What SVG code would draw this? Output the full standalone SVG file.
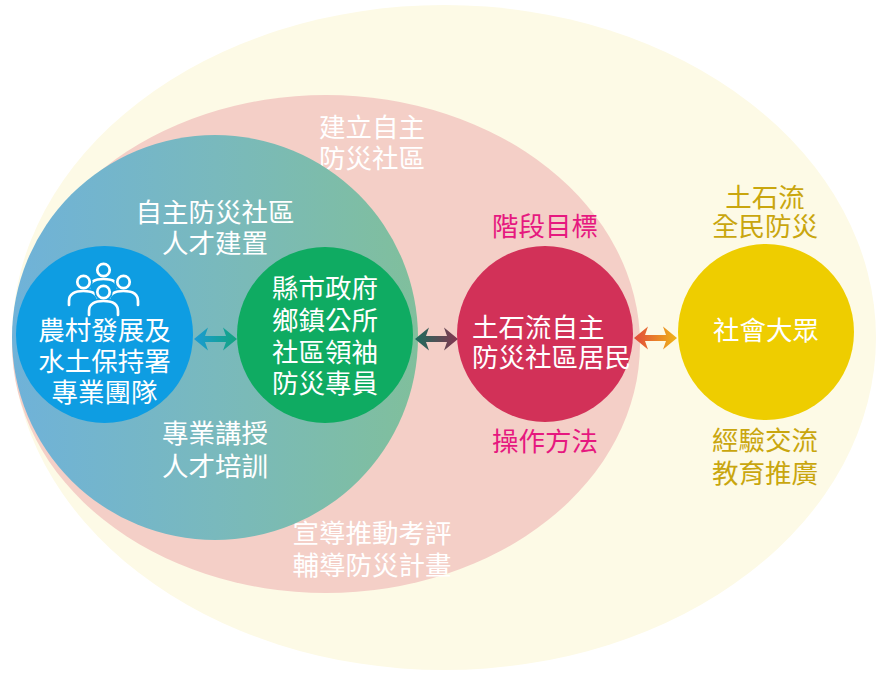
<svg xmlns="http://www.w3.org/2000/svg" width="884" height="676" viewBox="0 0 884 676">
<defs>
<linearGradient id="gTeal" x1="0" y1="0" x2="1" y2="0">
<stop offset="0" stop-color="#6fb2d9"/>
<stop offset="0.5" stop-color="#79b9bd"/>
<stop offset="1" stop-color="#80bf9c"/>
</linearGradient>
<linearGradient id="gA1" x1="0" y1="0" x2="1" y2="0">
<stop offset="0" stop-color="#1b9bd6"/>
<stop offset="1" stop-color="#12a47e"/>
</linearGradient>
<linearGradient id="gA2" x1="0" y1="0" x2="1" y2="0">
<stop offset="0" stop-color="#1a6c5c"/>
<stop offset="1" stop-color="#853650"/>
</linearGradient>
<linearGradient id="gA3" x1="0" y1="0" x2="1" y2="0">
<stop offset="0" stop-color="#e24a3c"/>
<stop offset="1" stop-color="#efb418"/>
</linearGradient>
<g id="person">
<path d="M-14.5,23 L-14.5,19 C-14.5,11.5 -8,9 0,9 C8,9 14.5,11.5 14.5,19 L14.5,23" fill="#0e9de2" stroke="#0e9de2" stroke-width="6"/>
<circle cx="0" cy="0" r="6.2" fill="#0e9de2" stroke="#0e9de2" stroke-width="6"/>
<path d="M-14.5,23 L-14.5,19 C-14.5,11.5 -8,9 0,9 C8,9 14.5,11.5 14.5,19 L14.5,23" fill="#0e9de2" stroke="#fff" stroke-width="2.7" stroke-linecap="round"/>
<circle cx="0" cy="0" r="6.2" fill="#0e9de2" stroke="#fff" stroke-width="2.7"/>
</g>
</defs>
<style>
text{font-family:"Noto Sans CJK TC","Noto Sans CJK SC",sans-serif;font-size:26.5px;text-anchor:middle}
.w{fill:#ffffff}
.m{fill:#e6187f}
.y{fill:#c9a60e}
</style>
<rect width="884" height="676" fill="#ffffff"/>
<g id="outer-public">
<ellipse cx="444" cy="337.5" rx="432" ry="332.5" fill="#fdfae6"/>
</g>
<g id="community-zone">
<ellipse cx="326" cy="344" rx="314" ry="249" fill="#f4cfc7"/>
<text class="w" x="372" y="137">建立自主</text>
<text class="w" x="372" y="168">防災社區</text>
<text class="w" x="372" y="543">宣導推動考評</text>
<text class="w" x="372" y="575">輔導防災計畫</text>
</g>
<g id="talent-zone">
<ellipse cx="215" cy="337.5" rx="203" ry="202.5" fill="url(#gTeal)"/>
<text class="w" x="215" y="222">自主防災社區</text>
<text class="w" x="215" y="253">人才建置</text>
<text class="w" x="215" y="443">專業講授</text>
<text class="w" x="215" y="476">人才培訓</text>
</g>
<g id="expert-team">
<circle cx="104.5" cy="334.5" r="88.5" fill="#0e9de2"/>
<use href="#person" x="103.5" y="270"/>
<use href="#person" x="83.5" y="282"/>
<use href="#person" x="123.5" y="282"/>
<use href="#person" x="103.5" y="292"/>
<text class="w" x="104.5" y="340">農村發展及</text>
<text class="w" x="104.5" y="371">水土保持署</text>
<text class="w" x="104.5" y="402">專業團隊</text>
</g>
<g id="local-gov">
<circle cx="325" cy="335" r="88" fill="#0fab62"/>
<text class="w" x="325" y="298">縣市政府</text>
<text class="w" x="325" y="330">鄉鎮公所</text>
<text class="w" x="325" y="362">社區領袖</text>
<text class="w" x="325" y="393">防災專員</text>
</g>
<g id="residents">
<circle cx="545" cy="334" r="88" fill="#d23158"/>
<text class="m" x="545" y="236">階段目標</text>
<text class="m" x="545" y="451">操作方法</text>
<text class="w" x="472" y="337" style="text-anchor:start">土石流自主</text>
<text class="w" x="472" y="367" style="text-anchor:start">防災社區居民</text>
</g>
<g id="public">
<circle cx="766" cy="332" r="88" fill="#eecd00"/>
<text class="y" x="765" y="207">土石流</text>
<text class="y" x="765" y="236">全民防災</text>
<text class="w" x="766" y="340">社會大眾</text>
<text class="y" x="765" y="450">經驗交流</text>
<text class="y" x="765" y="483">教育推廣</text>
</g>
<g id="connectors">
<path d="M194,339 L208,327.5 L205,336 L226,336 L223,327.5 L237,339 L223,350.5 L226,342 L205,342 L208,350.5 Z" fill="url(#gA1)"/>
<path d="M415,339 L429,327.5 L426,336 L447,336 L444,327.5 L458,339 L444,350.5 L447,342 L426,342 L429,350.5 Z" fill="url(#gA2)"/>
<path d="M634,338 L648,326.5 L645,335 L666,335 L663,326.5 L677,338 L663,349.5 L666,341 L645,341 L648,349.5 Z" fill="url(#gA3)"/>
</g>
</svg>
